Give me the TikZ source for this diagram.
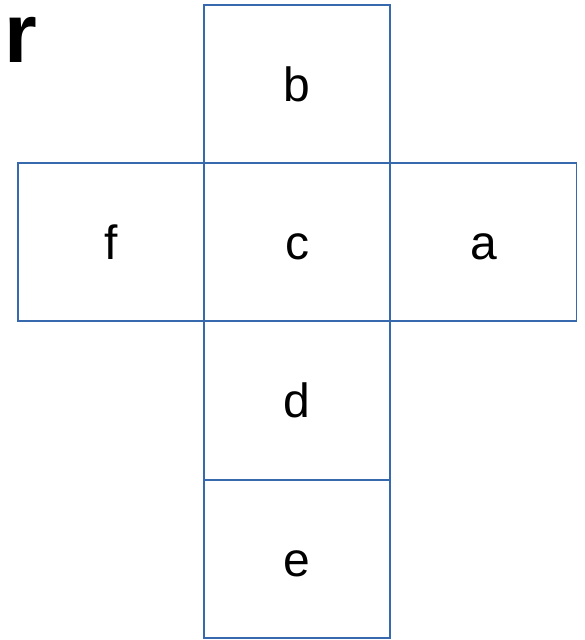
\documentclass[tikz,border=0pt]{standalone}
\usepackage{fontspec}
\setmainfont{Liberation Sans}
\definecolor{edgeblue}{RGB}{55,105,175}
\begin{document}
\begin{tikzpicture}[x=1pt,y=-1pt,
  face/.style={draw=edgeblue, line width=1.2pt, rectangle, inner sep=0pt,
    minimum width=186pt, minimum height=158pt, text height=34pt, text depth=0pt,
    font=\fontsize{48}{48}\selectfont},
  tag/.style={anchor=base west, inner sep=0pt, text height=50pt, text depth=0pt,
    font=\fontsize{84}{84}\selectfont\bfseries}]
\useasboundingbox (0,0) rectangle (585,640);
\node[face] (b) at (297,84) {b};
\node[face] (f) at (111,242) {f};
\node[face] (c) at (297,242) {c};
\node[face] (a) at (483.5,242) {a};
\node[face] (d) at (297,400.5) {d};
\node[face] (e) at (297,559) {e};
\node[tag] (r) at (4,62) {r};
\end{tikzpicture}
\end{document}
